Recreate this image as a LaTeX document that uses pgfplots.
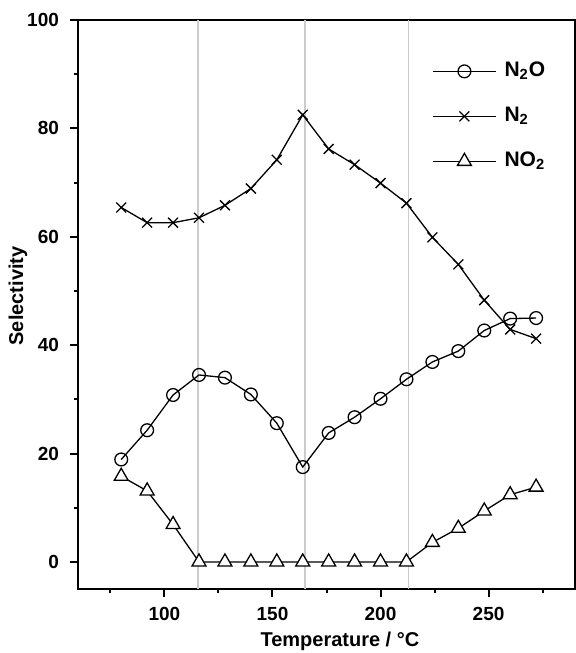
\documentclass[border=0pt]{standalone}
\usepackage{fontspec}
\setmainfont{Liberation Sans}
\usepackage{pgfplots}
\pgfplotsset{compat=1.18}

\pgfplotstableread{
T    NtwoO  Ntwo  NOtwo
80   18.9   65.4  15.8
92   24.3   62.6  13.1
104  30.8   62.6  6.9
116  34.5   63.5  0
128  34.0   65.8  0
140  30.9   68.9  0
152  25.6   74.2  0
164  17.5   82.5  0
176  23.8   76.2  0
188  26.7   73.3  0
200  30.1   69.9  0
212  33.7   66.2  0
224  36.9   59.9  3.6
236  38.9   54.9  6.2
248  42.7   48.3  9.4
260  44.9   42.9  12.4
272  45.0   41.2  13.8
}\seldata

\begin{document}
\begin{tikzpicture}
\useasboundingbox (-39pt,-32pt) rectangle (249pt,294.5pt);
\begin{axis}[
  at={(0,0)}, anchor=south west,
  scale only axis, width=248.5pt, height=284.5pt,
  xmin=60, xmax=290, ymin=-5, ymax=100,
  xtick={100,150,200,250}, minor xtick={75,125,175,225,275},
  ytick={0,20,...,100}, minor ytick={10,30,...,90},
  tick align=outside, xtick pos=left, ytick pos=left,
  major tick length=4pt, minor tick length=2pt,
  tick style={black, line width=1pt},
  axis line style={line width=1pt},
  /pgf/number format/assume math mode=true,
  tick label style={font=\bfseries\fontsize{9.5}{11}\selectfont},
  yticklabel style={xshift=-2pt},
  xticklabel style={yshift=-1.5pt},
  xlabel={Temperature / °C}, ylabel={Selectivity},
  label style={font=\bfseries\fontsize{10}{12}\selectfont},
  xlabel style={at={(axis description cs:0.527,0)}, anchor=base, yshift=-28.8pt},
  ylabel style={at={(axis description cs:-0.121,0.515)}, anchor=center},
  legend style={at={(rel axis cs:0.712,0.928)}, anchor=north west,
    draw=none, fill=none, inner sep=0pt, row sep=12.5pt,
    font=\bfseries\fontsize{10.5}{12}\selectfont,
    nodes={inner sep=0pt, text height=7.5pt, text depth=2.5pt},
    /tikz/every odd column/.append style={column sep=4pt}},
  legend cell align=left,
  legend image code/.code={\draw[mark repeat=2, mark phase=2, #1]
    plot coordinates {(0pt,0pt) (15.75pt,0pt) (31.5pt,0pt)};},
  every axis plot/.append style={black, line width=0.65pt},
]
\draw[black!20, line width=0.8pt] (axis cs:115.5,-5) -- (axis cs:115.5,100);
\draw[black!20, line width=0.8pt] (axis cs:165,-5) -- (axis cs:165,100);
\draw[black!20, line width=0.8pt] (axis cs:213,-5) -- (axis cs:213,100);
\addplot[mark=o, mark size=3.2pt, mark options={fill=white}] table[x=T, y=NtwoO] {\seldata};
\addlegendentry{N\textsubscript{2}O}
\addplot[mark=x, mark size=3.5pt] table[x=T, y=Ntwo] {\seldata};
\addlegendentry{N\textsubscript{2}}
\addplot[mark=triangle*, mark size=4pt, mark options={fill=white}] table[x=T, y=NOtwo] {\seldata};
\addlegendentry{NO\textsubscript{2}}
\end{axis}
\end{tikzpicture}
\end{document}
